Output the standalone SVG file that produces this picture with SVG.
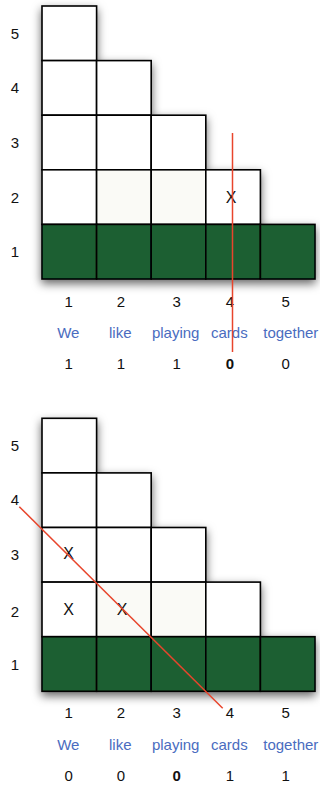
<svg xmlns="http://www.w3.org/2000/svg" width="320" height="785" viewBox="0 0 320 785">
<defs>
<filter id="sh" x="-20%" y="-20%" width="140%" height="140%">
<feDropShadow dx="0" dy="4" stdDeviation="5" flood-color="#000" flood-opacity="0.6"/>
</filter>
</defs>
<style>
.c{fill:#ffffff;stroke:#000;stroke-width:1.6}
.o{fill:#fafaf6;stroke:#000;stroke-width:1.6}
.g{fill:#1f5e33;stroke:#000;stroke-width:1.6}
text{font-family:"Liberation Sans",Arial,sans-serif;font-size:15px;text-anchor:middle;fill:#111}
.x{font-size:16px}
.w{fill:#4a6cc0}
.b{font-weight:bold}
.r{stroke:#e8452c;stroke-width:1.5;fill:none}
</style>

<!-- TOP DIAGRAM -->
<g id="top-grid" filter="url(#sh)">
<g id="t-c1-r5"><rect class="c" x="42" y="6" width="54.6" height="54.6"/></g>
<g id="t-c1-r4"><rect class="c" x="42" y="60.6" width="54.6" height="54.6"/></g>
<g id="t-c1-r3"><rect class="c" x="42" y="115.2" width="54.6" height="54.6"/></g>
<g id="t-c1-r2"><rect class="c" x="42" y="169.8" width="54.6" height="54.6"/></g>
<g id="t-c2-r4"><rect class="c" x="96.6" y="60.6" width="54.6" height="54.6"/></g>
<g id="t-c2-r3"><rect class="c" x="96.6" y="115.2" width="54.6" height="54.6"/></g>
<g id="t-c2-r2"><rect class="o" x="96.6" y="169.8" width="54.6" height="54.6"/></g>
<g id="t-c3-r3"><rect class="c" x="151.2" y="115.2" width="54.6" height="54.6"/></g>
<g id="t-c3-r2"><rect class="o" x="151.2" y="169.8" width="54.6" height="54.6"/></g>
<g id="t-c4-r2"><rect class="c" x="205.8" y="169.8" width="54.6" height="54.6"/></g>
<g id="t-c1-r1"><rect class="g" x="42" y="224.4" width="54.6" height="54.6"/></g>
<g id="t-c2-r1"><rect class="g" x="96.6" y="224.4" width="54.6" height="54.6"/></g>
<g id="t-c3-r1"><rect class="g" x="151.2" y="224.4" width="54.6" height="54.6"/></g>
<g id="t-c4-r1"><rect class="g" x="205.8" y="224.4" width="54.6" height="54.6"/></g>
<g id="t-c5-r1"><rect class="g" x="260.4" y="224.4" width="54.6" height="54.6"/></g>
</g>
<g id="t-marks"><text class="x" x="231" y="203">X</text></g>
<g id="t-rowlabels">
<text x="15" y="39">5</text><text x="15" y="93">4</text><text x="15" y="148">3</text><text x="15" y="203">2</text><text x="15" y="257">1</text>
</g>
<g id="t-collabels">
<text x="68.7" y="306.7">1</text><text x="121" y="306.7">2</text><text x="176.7" y="306.7">3</text><text x="230" y="306.7">4</text><text x="285.7" y="306.7">5</text>
</g>
<g id="t-words">
<text class="w" x="68.3" y="338">We</text><text class="w" x="120.3" y="338">like</text><text class="w" x="175.7" y="338">playing</text><text class="w" x="229.3" y="338">cards</text><text class="w" x="290.8" y="338">together</text>
</g>
<g id="t-values">
<text x="68.7" y="369">1</text><text x="121" y="369">1</text><text x="176.7" y="369">1</text><text class="b" x="230" y="369">0</text><text x="285.7" y="369">0</text>
</g>

<!-- BOTTOM DIAGRAM -->
<g id="bottom-grid" filter="url(#sh)">
<g id="b-c1-r5"><rect class="c" x="42" y="418.3" width="54.6" height="54.6"/></g>
<g id="b-c1-r4"><rect class="c" x="42" y="472.9" width="54.6" height="54.6"/></g>
<g id="b-c1-r3"><rect class="c" x="42" y="527.5" width="54.6" height="54.6"/></g>
<g id="b-c1-r2"><rect class="c" x="42" y="582.1" width="54.6" height="54.6"/></g>
<g id="b-c2-r4"><rect class="c" x="96.6" y="472.9" width="54.6" height="54.6"/></g>
<g id="b-c2-r3"><rect class="c" x="96.6" y="527.5" width="54.6" height="54.6"/></g>
<g id="b-c2-r2"><rect class="o" x="96.6" y="582.1" width="54.6" height="54.6"/></g>
<g id="b-c3-r3"><rect class="c" x="151.2" y="527.5" width="54.6" height="54.6"/></g>
<g id="b-c3-r2"><rect class="o" x="151.2" y="582.1" width="54.6" height="54.6"/></g>
<g id="b-c4-r2"><rect class="c" x="205.8" y="582.1" width="54.6" height="54.6"/></g>
<g id="b-c1-r1"><rect class="g" x="42" y="636.7" width="54.6" height="54.6"/></g>
<g id="b-c2-r1"><rect class="g" x="96.6" y="636.7" width="54.6" height="54.6"/></g>
<g id="b-c3-r1"><rect class="g" x="151.2" y="636.7" width="54.6" height="54.6"/></g>
<g id="b-c4-r1"><rect class="g" x="205.8" y="636.7" width="54.6" height="54.6"/></g>
<g id="b-c5-r1"><rect class="g" x="260.4" y="636.7" width="54.6" height="54.6"/></g>
</g>
<g id="b-marks">
<text class="x" x="68.5" y="559">X</text><text class="x" x="68.5" y="615">X</text><text class="x" x="122" y="615">X</text>
</g>
<g id="b-rowlabels">
<text x="15" y="451">5</text><text x="15" y="505">4</text><text x="15" y="560">3</text><text x="15" y="617">2</text><text x="15" y="670">1</text>
</g>
<g id="b-collabels">
<text x="68.7" y="717.5">1</text><text x="121" y="717.5">2</text><text x="176.7" y="717.5">3</text><text x="230" y="717.5">4</text><text x="285.7" y="717.5">5</text>
</g>
<g id="b-words">
<text class="w" x="68.3" y="750">We</text><text class="w" x="120.3" y="750">like</text><text class="w" x="175.7" y="750">playing</text><text class="w" x="229.3" y="750">cards</text><text class="w" x="290.8" y="750">together</text>
</g>
<g id="b-values">
<text x="68.7" y="780.5">0</text><text x="121" y="780.5">0</text><text class="b" x="176.7" y="780.5">0</text><text x="230" y="780.5">1</text><text x="285.7" y="780.5">1</text>
</g>

<!-- connectors (cut lines) -->
<g id="connectors">
<line class="r" x1="232.5" y1="133" x2="232.5" y2="352"/>
<line class="r" x1="19.3" y1="506.7" x2="222.7" y2="708.3"/>
</g>
</svg>
